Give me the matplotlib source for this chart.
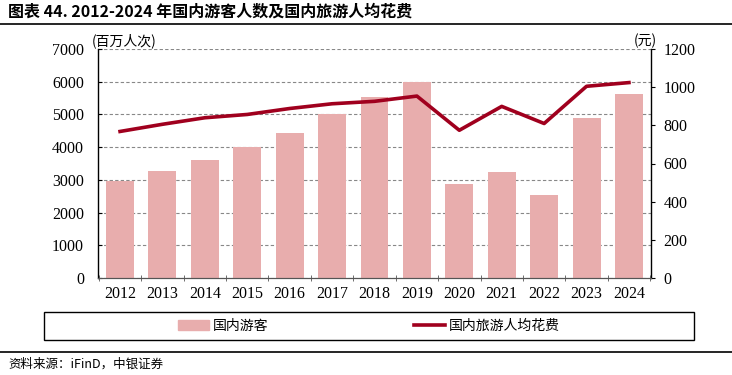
import matplotlib.pyplot as plt
import numpy as np
from matplotlib.patches import Patch, Rectangle
from matplotlib.lines import Line2D

plt.rcParams['font.family'] = ['Liberation Serif', 'Noto Sans CJK SC']

years = ["2012", "2013", "2014", "2015", "2016", "2017", "2018",
         "2019", "2020", "2021", "2022", "2023", "2024"]
visitors = [2957, 3262, 3611, 4000, 4440, 5001, 5539, 6006, 2879, 3246, 2530, 4891, 5615]
spending = [767.9, 805.5, 839.7, 857.0, 888.2, 913.0, 925.8, 953.3, 774.1, 899.3, 809.6, 1004.6, 1024.0]

bar_color = "#E8ADAD"
line_color = "#A0001E"
cjk = ['Noto Sans CJK SC', 'DejaVu Sans']

fig = plt.figure(figsize=(7.32, 3.75), dpi=100)
ax = fig.add_axes([98 / 732, 1 - 278 / 375, (651 - 98) / 732, (278 - 49) / 375])
ax2 = ax.twinx()

x = np.arange(len(years))
ax.bar(x, visitors, width=0.66, color=bar_color, zorder=2)
ax2.plot(x, spending, color=line_color, lw=2.6, zorder=3)

ax.set_xlim(-0.52, len(years) - 0.48)
ax.set_ylim(0, 7000)
ax.set_yticks(np.arange(0, 7001, 1000))
ax2.set_ylim(0, 1200)
ax2.set_yticks(np.arange(0, 1201, 200))
ax.set_xticks(x)
ax.set_xticklabels(years)
ax.set_xticks(np.arange(-0.5, len(years), 1), minor=True)
ax.tick_params(axis='x', which='major', length=0, labelsize=11.5, pad=6)
ax.tick_params(axis='x', which='minor', length=4, direction='inout', color='#555555')
ax.tick_params(axis='y', length=3, direction='in', labelsize=11.5, pad=10)
ax2.tick_params(axis='y', length=3, direction='out', labelsize=11.5, pad=6)

ax.yaxis.grid(True, linestyle=(0, (3, 2)), color='#888888', lw=0.8, zorder=0)
ax.set_axisbelow(True)
for a in (ax, ax2):
    a.spines['top'].set_visible(False)
    a.spines['left'].set_linewidth(1.0)
    a.spines['right'].set_linewidth(1.0)
    a.spines['bottom'].set_color('#555555')
ax2.spines['left'].set_visible(False)
ax.spines['right'].set_visible(False)

fig.text(92 / 732, 1 - 41 / 375, "(百万人次)", fontsize=10, family=cjk, va='center', ha='left')
fig.text(657 / 732, 1 - 41 / 375, "(元)", fontsize=10, family=cjk, va='center', ha='right')

# title and rules
fig.text(8 / 732, 1 - 12 / 375, "图表 44. 2012-2024 年国内游客人数及国内旅游人均花费",
         fontsize=11.5, fontweight='bold', family=cjk, va='center', ha='left')
fig.add_artist(Line2D([0, 1], [1 - 24 / 375, 1 - 24 / 375], color='black', lw=1.2))
fig.add_artist(Line2D([0, 1], [1 - 352 / 375, 1 - 352 / 375], color='black', lw=1.2))
fig.text(8 / 732, 1 - 364 / 375, "资料来源：iFinD，中银证券", fontsize=9, style='italic',
         family=cjk, va='center', ha='left')

# legend box
fig.add_artist(Rectangle((44 / 732, 1 - 340 / 375), (694 - 44) / 732, 28 / 375,
                         transform=fig.transFigure, fill=False, edgecolor='black', lw=1.0))
handles = [Patch(color=bar_color), Line2D([], [], color=line_color, lw=2.6)]
fig.legend(handles, ["国内游客", "国内旅游人均花费"], loc='center',
           bbox_to_anchor=(369 / 732, 1 - 326 / 375),
           ncol=2, frameon=False, prop={'family': cjk, 'size': 10},
           columnspacing=10.5, handlelength=2.2, handletextpad=0.3)

fig.savefig("out.png", dpi=100)
